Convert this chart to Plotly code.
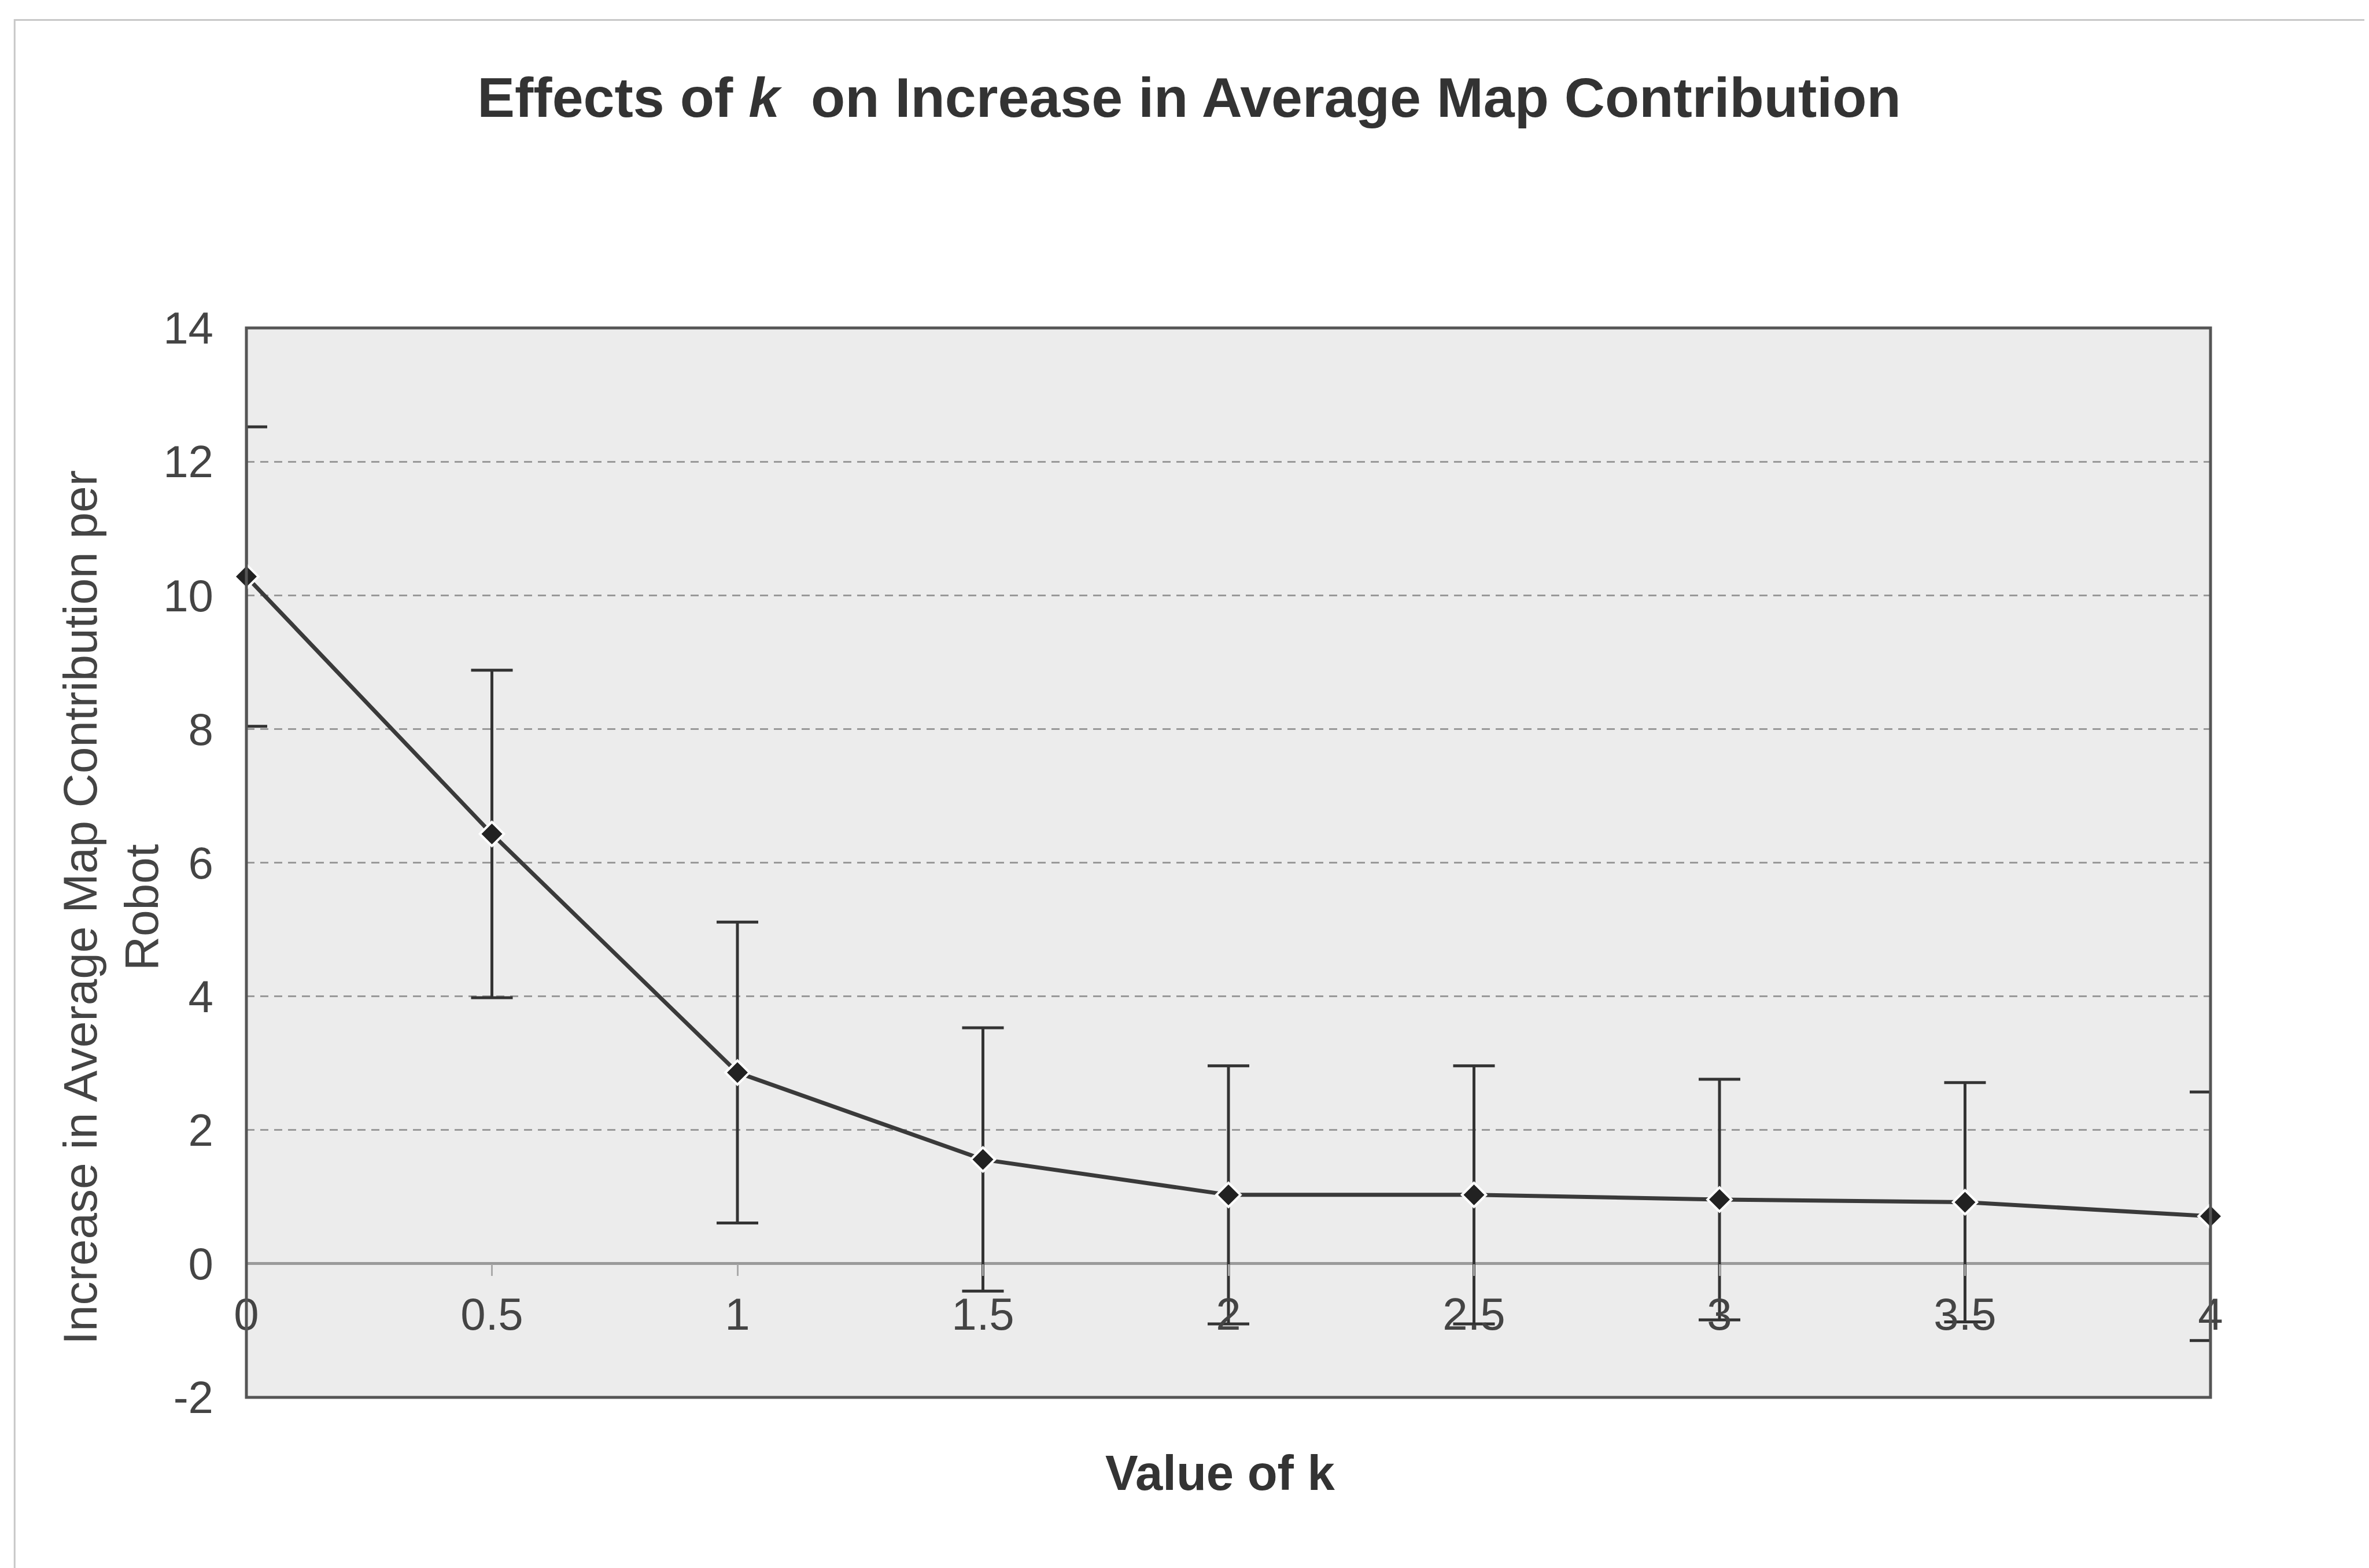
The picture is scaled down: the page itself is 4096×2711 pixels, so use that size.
import plotly.graph_objects as go

# Data
k_values = [0, 0.5, 1, 1.5, 2, 2.5, 3, 3.5, 4]
mean_increase = [10.28, 6.43, 2.86, 1.56, 1.03, 1.03, 0.96, 0.92, 0.71]
error_sd = [2.24, 2.45, 2.25, 1.97, 1.93, 1.93, 1.80, 1.79, 1.86]
y_ticks = [-2, 0, 2, 4, 6, 8, 10, 12, 14]
y_ticklabels = ["-2", "0", "2", "4", "6", "8", "10", "12", "14"]
x_ticks = [0, 0.5, 1, 1.5, 2, 2.5, 3, 3.5, 4]
x_ticklabels = ["0", "0.5", "1", "1.5", "2", "2.5", "3", "3.5", "4"]

FONT = "Liberation Sans, Arial, sans-serif"
W, H = 4096, 2711
L, R, T, B = 418, 282, 559, 303

fig = go.Figure()
fig.add_trace(go.Scatter(
    x=k_values, y=mean_increase, mode="lines+markers",
    line=dict(color="#3a3a3a", width=7),
    marker=dict(symbol="diamond", size=32, color="#222222",
                line=dict(color="white", width=4)),
    error_y=dict(type="data", array=error_sd, visible=True,
                 color="#333333", thickness=5, width=36),
    cliponaxis=False, showlegend=False,
))

fig.update_layout(
    width=W, height=H,
    margin=dict(l=L, r=R, t=T, b=B),
    paper_bgcolor="white", plot_bgcolor="#ececec",
    font=dict(family=FONT, color="#333333"),
    title=dict(text="<b>Effects of <i>k</i>  on Increase in Average Map Contribution</b>",
               x=0.5, xanchor="center", y=1 - 160 / H, yanchor="middle",
               font=dict(size=97, color="#333333", family=FONT)),
    xaxis=dict(range=[0, 4], anchor="free", position=0.125,
               tickvals=x_ticks, ticktext=x_ticklabels,
               ticks="outside", ticklen=20, tickwidth=3, tickcolor="#aaaaaa",
               ticklabelstandoff=0,
               tickfont=dict(size=78, color="#444444", family=FONT),
               showgrid=False, showline=False, zeroline=False),
    yaxis=dict(range=[-2, 14], tickvals=y_ticks, ticktext=y_ticklabels,
               ticks="", ticklabelstandoff=56,
               tickfont=dict(size=78, color="#444444", family=FONT),
               showgrid=True, gridcolor="#999999", gridwidth=3,
               griddash="14px,10px",
               zeroline=True, zerolinecolor="#9a9a9a", zerolinewidth=5,
               showline=False),
)

# plot-area border
fig.add_shape(type="rect", xref="paper", yref="paper", x0=0, x1=1, y0=0, y1=1,
              line=dict(color="#555555", width=5), layer="above")
# outer chart border (bottom edge lies beyond the page, as in the scan)
fig.add_shape(type="rect", xref="paper", yref="paper",
              x0=-0.118, x1=1.079, y0=-0.2, y1=1.288,
              line=dict(color="#c8c8c8", width=3), layer="below")

# axis titles
fig.add_annotation(text="Increase in Average Map Contribution per<br>Robot",
                   xref="paper", yref="paper", x=-0.0690, y=0.458,
                   xanchor="center", yanchor="middle", textangle=-90,
                   showarrow=False,
                   font=dict(size=82, color="#444444", family=FONT))
fig.add_annotation(text="<b>Value of k</b>",
                   xref="paper", yref="paper", x=0.496, y=-0.0708,
                   xanchor="center", yanchor="middle", showarrow=False,
                   font=dict(size=85, color="#333333", family=FONT))

fig.write_html("out.html")
